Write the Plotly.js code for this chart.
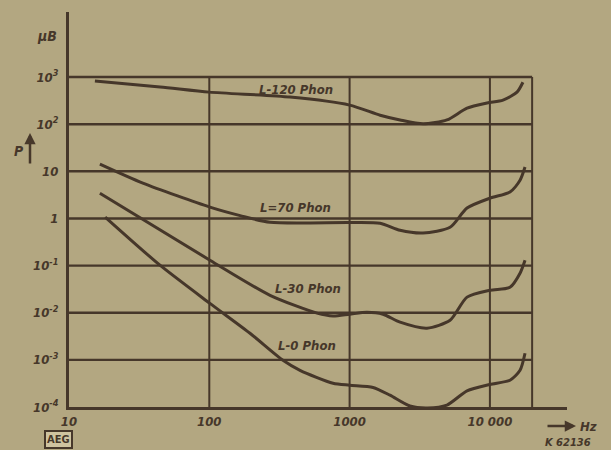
<!DOCTYPE html>
<html>
<head>
<meta charset="utf-8">
<script src="https://cdn.plot.ly/plotly-3.0.1.min.js"></script>
<style>
  html, body { margin: 0; padding: 0; background: #b3a781; }
  #chart { width: 611px; height: 450px; }
</style>
</head>
<body>
<div id="chart"></div>
<script>
// ---- data (frequency in Hz, sound pressure p in µB) ----
const freq120 = [15.3, 44.6, 100, 376, 1000, 1650, 2290, 3340, 4940, 6870, 9550, 12400, 15600, 17200];
const p120    = [822, 617, 479, 376, 254, 155, 123, 102, 123, 219, 282, 324, 479, 776];

const freq70 = [16.6, 33.6, 101, 166, 271, 1000, 1650, 2290, 3340, 5200, 6870, 10000, 13900, 16400, 17800];
const p70    = [14.2, 5.62, 1.74, 1.15, 0.83, 0.82, 0.79, 0.56, 0.49, 0.65, 1.66, 2.69, 3.63, 6.46, 12.3];

const freq30 = [16.6, 101, 271, 586, 762, 1000, 1330, 1730, 2290, 3560, 5200, 6870, 10000, 13900, 16400, 17800];
const p30    = [3.44, 0.130, 0.0234, 0.0098, 0.0085, 0.0093, 0.0102, 0.0093, 0.0063, 0.0047, 0.0069, 0.0214, 0.030, 0.0347, 0.069, 0.130];

const freq0 = [18.1, 44.5, 101, 195, 335, 443, 762, 1000, 1470, 1940, 2690, 3600, 4940, 6870, 10000, 13900, 16400, 17800];
const p0    = [1.07, 0.102, 0.0158, 0.00367, 0.00098, 0.0006, 0.00032, 0.00029, 0.00026, 0.000178, 0.000105, 0.0000955, 0.00011, 0.00022, 0.0003, 0.00037, 0.0006, 0.00138];

const curveLabels = ["L-120 Phon", "L=70 Phon", "L-30 Phon", "L-0 Phon"];
const labelFreq   = [219, 222, 284, 299];
const labelP      = [556, 1.74, 0.033, 0.002];

// axis ticks
const yTickVals = [1e-4, 1e-3, 1e-2, 1e-1, 1, 10, 100, 1000];
const yTickText = ["10<sup>-4</sup>", "10<sup>-3</sup>", "10<sup>-2</sup>", "10<sup>-1</sup>", "1", "10", "10<sup>2</sup>", "10<sup>3</sup>"];
const xTickVals = [10, 100, 1000, 10000];
const xTickText = ["10", "100", "1000", "10 000"];

// grid of the printed chart
const hGrid = [1e-3, 1e-2, 1e-1, 1, 10, 100, 1000];
const vGrid = [100, 1000, 10000, 20000];
const fMin = 10, fMax = 20000, pMin = 1e-4, pMax = 1000;

// ---- styling ----
const INK = "#46372a";
const BG = "#b3a781";
const FONT = "Liberation Sans Narrow, DejaVu Sans Condensed, Arial Narrow, Roboto, sans-serif";

// grid traces
const gx = [], gy = [];
hGrid.forEach(v => { gx.push(fMin, fMax, null); gy.push(v, v, null); });
const vx = [], vy = [];
vGrid.forEach(f => { vx.push(f, f, null); vy.push(pMin, pMax, null); });

const traces = [
  { x: gx, y: gy, mode: "lines", line: { color: INK, width: 2.4 }, hoverinfo: "skip" },
  { x: vx, y: vy, mode: "lines", line: { color: INK, width: 2 }, hoverinfo: "skip" },
];
[[freq120, p120], [freq70, p70], [freq30, p30], [freq0, p0]].forEach(([f, p]) => {
  traces.push({ x: f, y: p, mode: "lines", line: { color: INK, width: 3, shape: "spline", smoothing: 0.7 }, hoverinfo: "skip" });
});

// pixel helpers for loose decorative text (plot area: x 69..567, y 12..407)
const L = 69, R = 567, T = 12, B = 407;
const px = v => (v - L) / (R - L);
const py = v => (B - v) / (B - T);

const annotations = curveLabels.map((t, i) => ({
  x: Math.log10(labelFreq[i]), y: Math.log10(labelP[i]), xref: "x", yref: "y",
  text: t, showarrow: false, xanchor: "left", yanchor: "middle",
  font: { family: FONT, size: 13, color: INK, style: "italic", weight: 700 }
}));

const deco = (x, y, text, size, extra) => Object.assign({
  x: px(x), y: py(y), xref: "paper", yref: "paper", text: text, showarrow: false,
  xanchor: "center", yanchor: "middle",
  font: { family: FONT, size: size, color: INK, style: "italic", weight: 700 }
}, extra || {});

annotations.push(
  deco(47, 36, "µB", 14),
  deco(19, 151, "P", 14),
  { x: px(30), y: py(133), xref: "paper", yref: "paper", text: "", showarrow: true,
    ax: 0, ay: 32, arrowhead: 2, arrowsize: 0.9, arrowwidth: 2.5, arrowcolor: INK },
  { x: px(576), y: py(426), xref: "paper", yref: "paper", text: "", showarrow: true,
    ax: -30, ay: 0, arrowhead: 2, arrowsize: 0.9, arrowwidth: 2.5, arrowcolor: INK },
  deco(588, 426, "Hz", 13),
  deco(568, 442, "K 62136", 11),
  deco(58, 439, "AEG", 11, { bordercolor: INK, borderwidth: 2, borderpad: 1, bgcolor: "#cfc3a0",
    font: { family: FONT, size: 11, color: INK, weight: 700 } })
);

const layout = {
  width: 611, height: 450,
  margin: { l: L, r: 611 - R, t: T, b: 450 - B, pad: 0 },
  paper_bgcolor: BG, plot_bgcolor: BG,
  showlegend: false,
  xaxis: {
    type: "log", range: [1, 1 + (R - L) / 140.3],
    showgrid: false, zeroline: false, showline: true, linecolor: INK, linewidth: 3,
    tickvals: xTickVals, ticktext: xTickText, ticks: "", ticklabelstandoff: 0,
    tickfont: { family: FONT, size: 13, color: INK, style: "italic", weight: 700 },
    fixedrange: true
  },
  yaxis: {
    type: "log", range: [-4, 3 + (77 - T) / 47.1],
    showgrid: false, zeroline: false, showline: true, linecolor: INK, linewidth: 3,
    tickvals: yTickVals, ticktext: yTickText, ticks: "", ticklabelstandoff: 5,
    tickfont: { family: FONT, size: 13, color: INK, style: "italic", weight: 700 },
    fixedrange: true
  },
  annotations: annotations
};

Plotly.newPlot("chart", traces, layout, { staticPlot: true, displayModeBar: false });
</script>
</body>
</html>
